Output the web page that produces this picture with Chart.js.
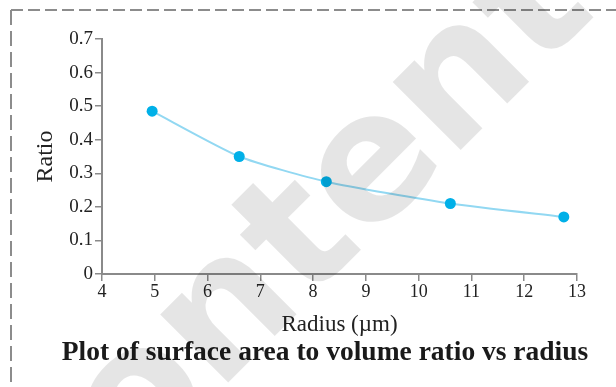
<!DOCTYPE html>
<html lang="en">
<head>
  <meta charset="UTF-8">
  <title>Surface area to volume ratio vs radius</title>
  <script src="https://cdn.jsdelivr.net/npm/chart.js"></script>
  <style>
    html, body {
      margin: 0;
      padding: 0;
      background: #ffffff;
    }
    #wrap {
      width: 616px;
      height: 387px;
    }
  </style>
</head>
<body>
  <div id="wrap"><canvas id="ratioChart" width="616" height="387"></canvas></div>

  <script>
    // values
    const radius = [4.95, 6.6, 8.25, 10.6, 12.75];
    const ratio = [0.485, 0.35, 0.275, 0.21, 0.17];

    const xTitle = 'Radius (\u00b5m)';
    const yTitle = 'Ratio';
    const plotTitle = 'Plot of surface area to volume ratio vs radius';
    const watermark = 'content';

    const axisGrey = '#8a8a8a';
    const serif = '"Liberation Serif", "Times New Roman", serif';

    // dashed frame behind, watermark on top
    const framePlugin = {
      id: 'frame',
      afterLayout(chart) {
        // the caption sits a bit right of the full-width centre
        if (chart.titleBlock) {
          chart.titleBlock.left = 50;
          chart.titleBlock.right = 600;
        }
      },
      beforeDraw(chart) {
        const ctx = chart.ctx;
        ctx.save();
        ctx.strokeStyle = '#8c8c8c';
        ctx.lineWidth = 2;
        ctx.setLineDash([12, 5]);
        ctx.beginPath();
        ctx.moveTo(11, 10);
        ctx.lineTo(616, 10);
        ctx.stroke();
        ctx.setLineDash([15, 6]);
        ctx.beginPath();
        ctx.moveTo(11, 10);
        ctx.lineTo(11, 387);
        ctx.stroke();
        ctx.restore();
      },
      afterDraw(chart) {
        const ctx = chart.ctx;
        ctx.save();
        ctx.translate(296, 250);
        ctx.rotate(-Math.PI / 4);
        ctx.fillStyle = 'rgba(0,0,0,0.1)';
        ctx.font = 'bold 176px "DejaVu Sans"';
        ctx.textAlign = 'center';
        ctx.textBaseline = 'middle';
        ctx.fillText(watermark, 0, 0);
        ctx.restore();
      }
    };

    new Chart(document.getElementById('ratioChart'), {
      type: 'line',
      data: {
        datasets: [{
          data: radius.map((r, i) => ({ x: r, y: ratio[i] })),
          borderColor: '#92d8f2',
          borderWidth: 2,
          tension: 0.2,
          pointRadius: 5.5,
          pointBackgroundColor: '#00b0e8',
          pointBorderColor: '#00b0e8',
          pointBorderWidth: 0,
          fill: false
        }]
      },
      options: {
        responsive: false,
        animation: false,
        layout: { padding: { left: 0, top: 39, right: 39, bottom: 20 } },
        plugins: {
          legend: { display: false },
          tooltip: { enabled: false },
          title: {
            display: true,
            position: 'bottom',
            text: plotTitle,
            color: '#1a1a1a',
            font: { family: serif, size: 27.5, weight: 'bold', lineHeight: 1 },
            padding: 0
          }
        },
        scales: {
          x: {
            type: 'linear',
            min: 4,
            max: 13,
            afterFit(scale) { scale.height = 65.5; },
            border: { color: axisGrey, width: 2 },
            grid: { drawOnChartArea: false, tickLength: 7, color: axisGrey, lineWidth: 1.5 },
            ticks: {
              stepSize: 1,
              padding: 0,
              color: '#222',
              font: { family: serif, size: 18 }
            },
            title: {
              display: true,
              text: xTitle,
              color: '#222',
              font: { family: serif, size: 23, lineHeight: 1 },
              padding: { top: 0, bottom: 3 }
            }
          },
          y: {
            min: 0,
            max: 0.7,
            afterFit(scale) { scale.width = 102; },
            border: { color: axisGrey, width: 2 },
            grid: { drawOnChartArea: false, tickLength: 7, color: axisGrey, lineWidth: 1.5 },
            ticks: {
              stepSize: 0.1,
              padding: 2,
              color: '#222',
              font: { family: serif, size: 19 },
              callback: v => (Math.abs(v) < 1e-9 ? '0' : v.toFixed(1))
            },
            title: {
              display: true,
              text: yTitle,
              color: '#222',
              font: { family: serif, size: 24, lineHeight: 1 },
              padding: { top: 34, bottom: 0 }
            }
          }
        }
      },
      plugins: [framePlugin]
    });
  </script>
</body>
</html>
